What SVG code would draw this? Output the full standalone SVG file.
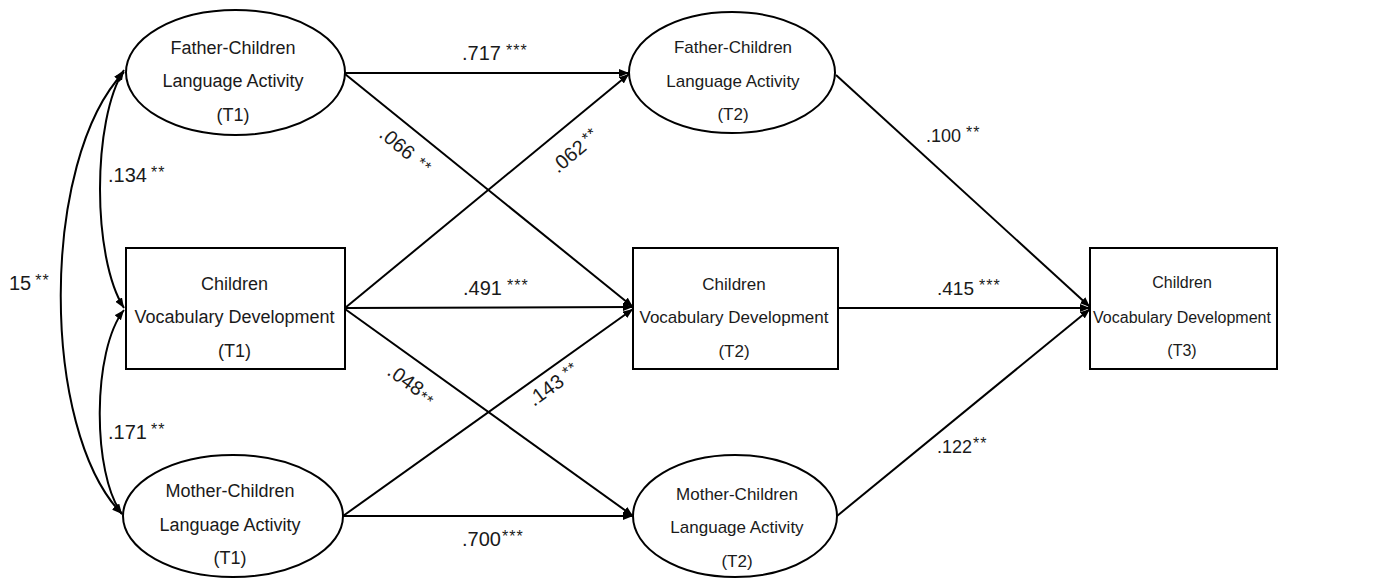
<svg xmlns="http://www.w3.org/2000/svg" width="1373" height="579" viewBox="0 0 1373 579">
<defs>
<style>
.node{fill:#fff;stroke:#000;stroke-width:2}
.nt{font-family:"Liberation Sans",Arial,sans-serif;fill:#1a1a1a;text-anchor:middle}
.lbl{font-family:"Liberation Sans",Arial,sans-serif;fill:#1a1a1a;font-size:20px}
.st{font-size:16px;letter-spacing:1px}
.edge{fill:none;stroke:#000;stroke-width:2}
</style>
<marker id="ah" viewBox="0 0 10 8" refX="10" refY="4" markerWidth="10" markerHeight="8" markerUnits="userSpaceOnUse" orient="auto-start-reverse">
<path d="M0,0 L10,4 L0,8 z" fill="#000"/>
</marker>
</defs>
<rect width="1373" height="579" fill="#fff"/>

<g id="connectors">
<path class="edge" d="M124,70 C92,120 92,258 124,308" marker-start="url(#ah)" marker-end="url(#ah)"/>
<path class="edge" d="M124,310 C92,350 92,474 122,514" marker-start="url(#ah)" marker-end="url(#ah)"/>
<path class="edge" d="M124,72 C40,160 40,430 122,514" marker-start="url(#ah)" marker-end="url(#ah)"/>
<line class="edge" x1="345" y1="73" x2="629" y2="73" marker-end="url(#ah)"/>
<line class="edge" x1="345" y1="74" x2="633" y2="307" marker-end="url(#ah)"/>
<line class="edge" x1="345" y1="308" x2="629" y2="74" marker-end="url(#ah)"/>
<line class="edge" x1="345" y1="308" x2="633" y2="307" marker-end="url(#ah)"/>
<line class="edge" x1="345" y1="309" x2="633" y2="516" marker-end="url(#ah)"/>
<line class="edge" x1="343" y1="516" x2="633" y2="309" marker-end="url(#ah)"/>
<line class="edge" x1="343" y1="516" x2="633" y2="516" marker-end="url(#ah)"/>
<line class="edge" x1="836" y1="75" x2="1090" y2="307" marker-end="url(#ah)"/>
<line class="edge" x1="838" y1="308" x2="1090" y2="308" marker-end="url(#ah)"/>
<line class="edge" x1="837" y1="516" x2="1090" y2="309" marker-end="url(#ah)"/>
</g>

<g id="labels">
<text class="lbl" x="108" y="182">.134<tspan class="st" dx="4" dy="-4">**</tspan></text>
<text class="lbl" x="108" y="439">.171<tspan class="st" dx="4" dy="-4">**</tspan></text>
<text class="lbl" x="9" y="290" font-size="19">15<tspan class="st" dx="4" dy="-4">**</tspan></text>
<text class="lbl" x="462" y="60">.717<tspan class="st" dx="5" dy="-4">***</tspan></text>
<text class="lbl" x="463" y="295">.491<tspan class="st" dx="5" dy="-4">***</tspan></text>
<text class="lbl" x="462" y="546">.700<tspan class="st" dx="1" dy="-4">***</tspan></text>
<text class="lbl" x="926" y="142" style="font-size:18px">.100<tspan class="st" dx="5" dy="-4">**</tspan></text>
<text class="lbl" x="937" y="295" style="font-size:19px">.415<tspan class="st" dx="5" dy="-4">***</tspan></text>
<text class="lbl" x="937" y="453" style="font-size:18px">.122<tspan class="st" dx="1" dy="-4">**</tspan></text>
<text class="lbl" transform="translate(378,136) rotate(40)">.066<tspan class="st" dx="8" dy="-2">**</tspan></text>
<text class="lbl" transform="translate(558,174) rotate(-40)">.062<tspan class="st" dx="3" dy="-4">**</tspan></text>
<text class="lbl" transform="translate(386,374) rotate(36)">.048<tspan class="st" dx="1" dy="2">**</tspan></text>
<text class="lbl" transform="translate(534,407) rotate(-36)">.143<tspan class="st" dx="5" dy="-4">**</tspan></text>
</g>

<g id="father-t1">
<ellipse class="node" cx="235.5" cy="72.5" rx="109.5" ry="62.5"/>
<text class="nt" font-size="18" x="233" y="54">Father-Children</text>
<text class="nt" font-size="18" x="233" y="87">Language Activity</text>
<text class="nt" font-size="18" x="233" y="121">(T1)</text>
</g>
<g id="vocab-t1">
<rect class="node" x="126" y="248" width="219" height="121"/>
<text class="nt" font-size="18" x="234.5" y="290">Children</text>
<text class="nt" font-size="18" x="234.5" y="323">Vocabulary Development</text>
<text class="nt" font-size="18" x="234.5" y="357">(T1)</text>
</g>
<g id="mother-t1">
<ellipse class="node" cx="233" cy="516" rx="110" ry="61"/>
<text class="nt" font-size="18" x="230" y="497">Mother-Children</text>
<text class="nt" font-size="18" x="230" y="531">Language Activity</text>
<text class="nt" font-size="18" x="230" y="564">(T1)</text>
</g>
<g id="father-t2">
<ellipse class="node" cx="732" cy="72.5" rx="103" ry="60.5"/>
<text class="nt" font-size="17" x="733" y="53">Father-Children</text>
<text class="nt" font-size="17" x="733" y="87">Language Activity</text>
<text class="nt" font-size="17" x="733" y="120">(T2)</text>
</g>
<g id="vocab-t2">
<rect class="node" x="633" y="248" width="205" height="121"/>
<text class="nt" font-size="17" x="734" y="290">Children</text>
<text class="nt" font-size="17" x="734" y="323">Vocabulary Development</text>
<text class="nt" font-size="17" x="734" y="357">(T2)</text>
</g>
<g id="mother-t2">
<ellipse class="node" cx="735" cy="516" rx="102" ry="61"/>
<text class="nt" font-size="17" x="737" y="500">Mother-Children</text>
<text class="nt" font-size="17" x="737" y="533">Language Activity</text>
<text class="nt" font-size="17" x="737" y="567">(T2)</text>
</g>
<g id="vocab-t3">
<rect class="node" x="1090" y="248" width="187" height="121"/>
<text class="nt" font-size="16" x="1182" y="288">Children</text>
<text class="nt" font-size="16" x="1182" y="323">Vocabulary Development</text>
<text class="nt" font-size="16" x="1182" y="356">(T3)</text>
</g>
</svg>
